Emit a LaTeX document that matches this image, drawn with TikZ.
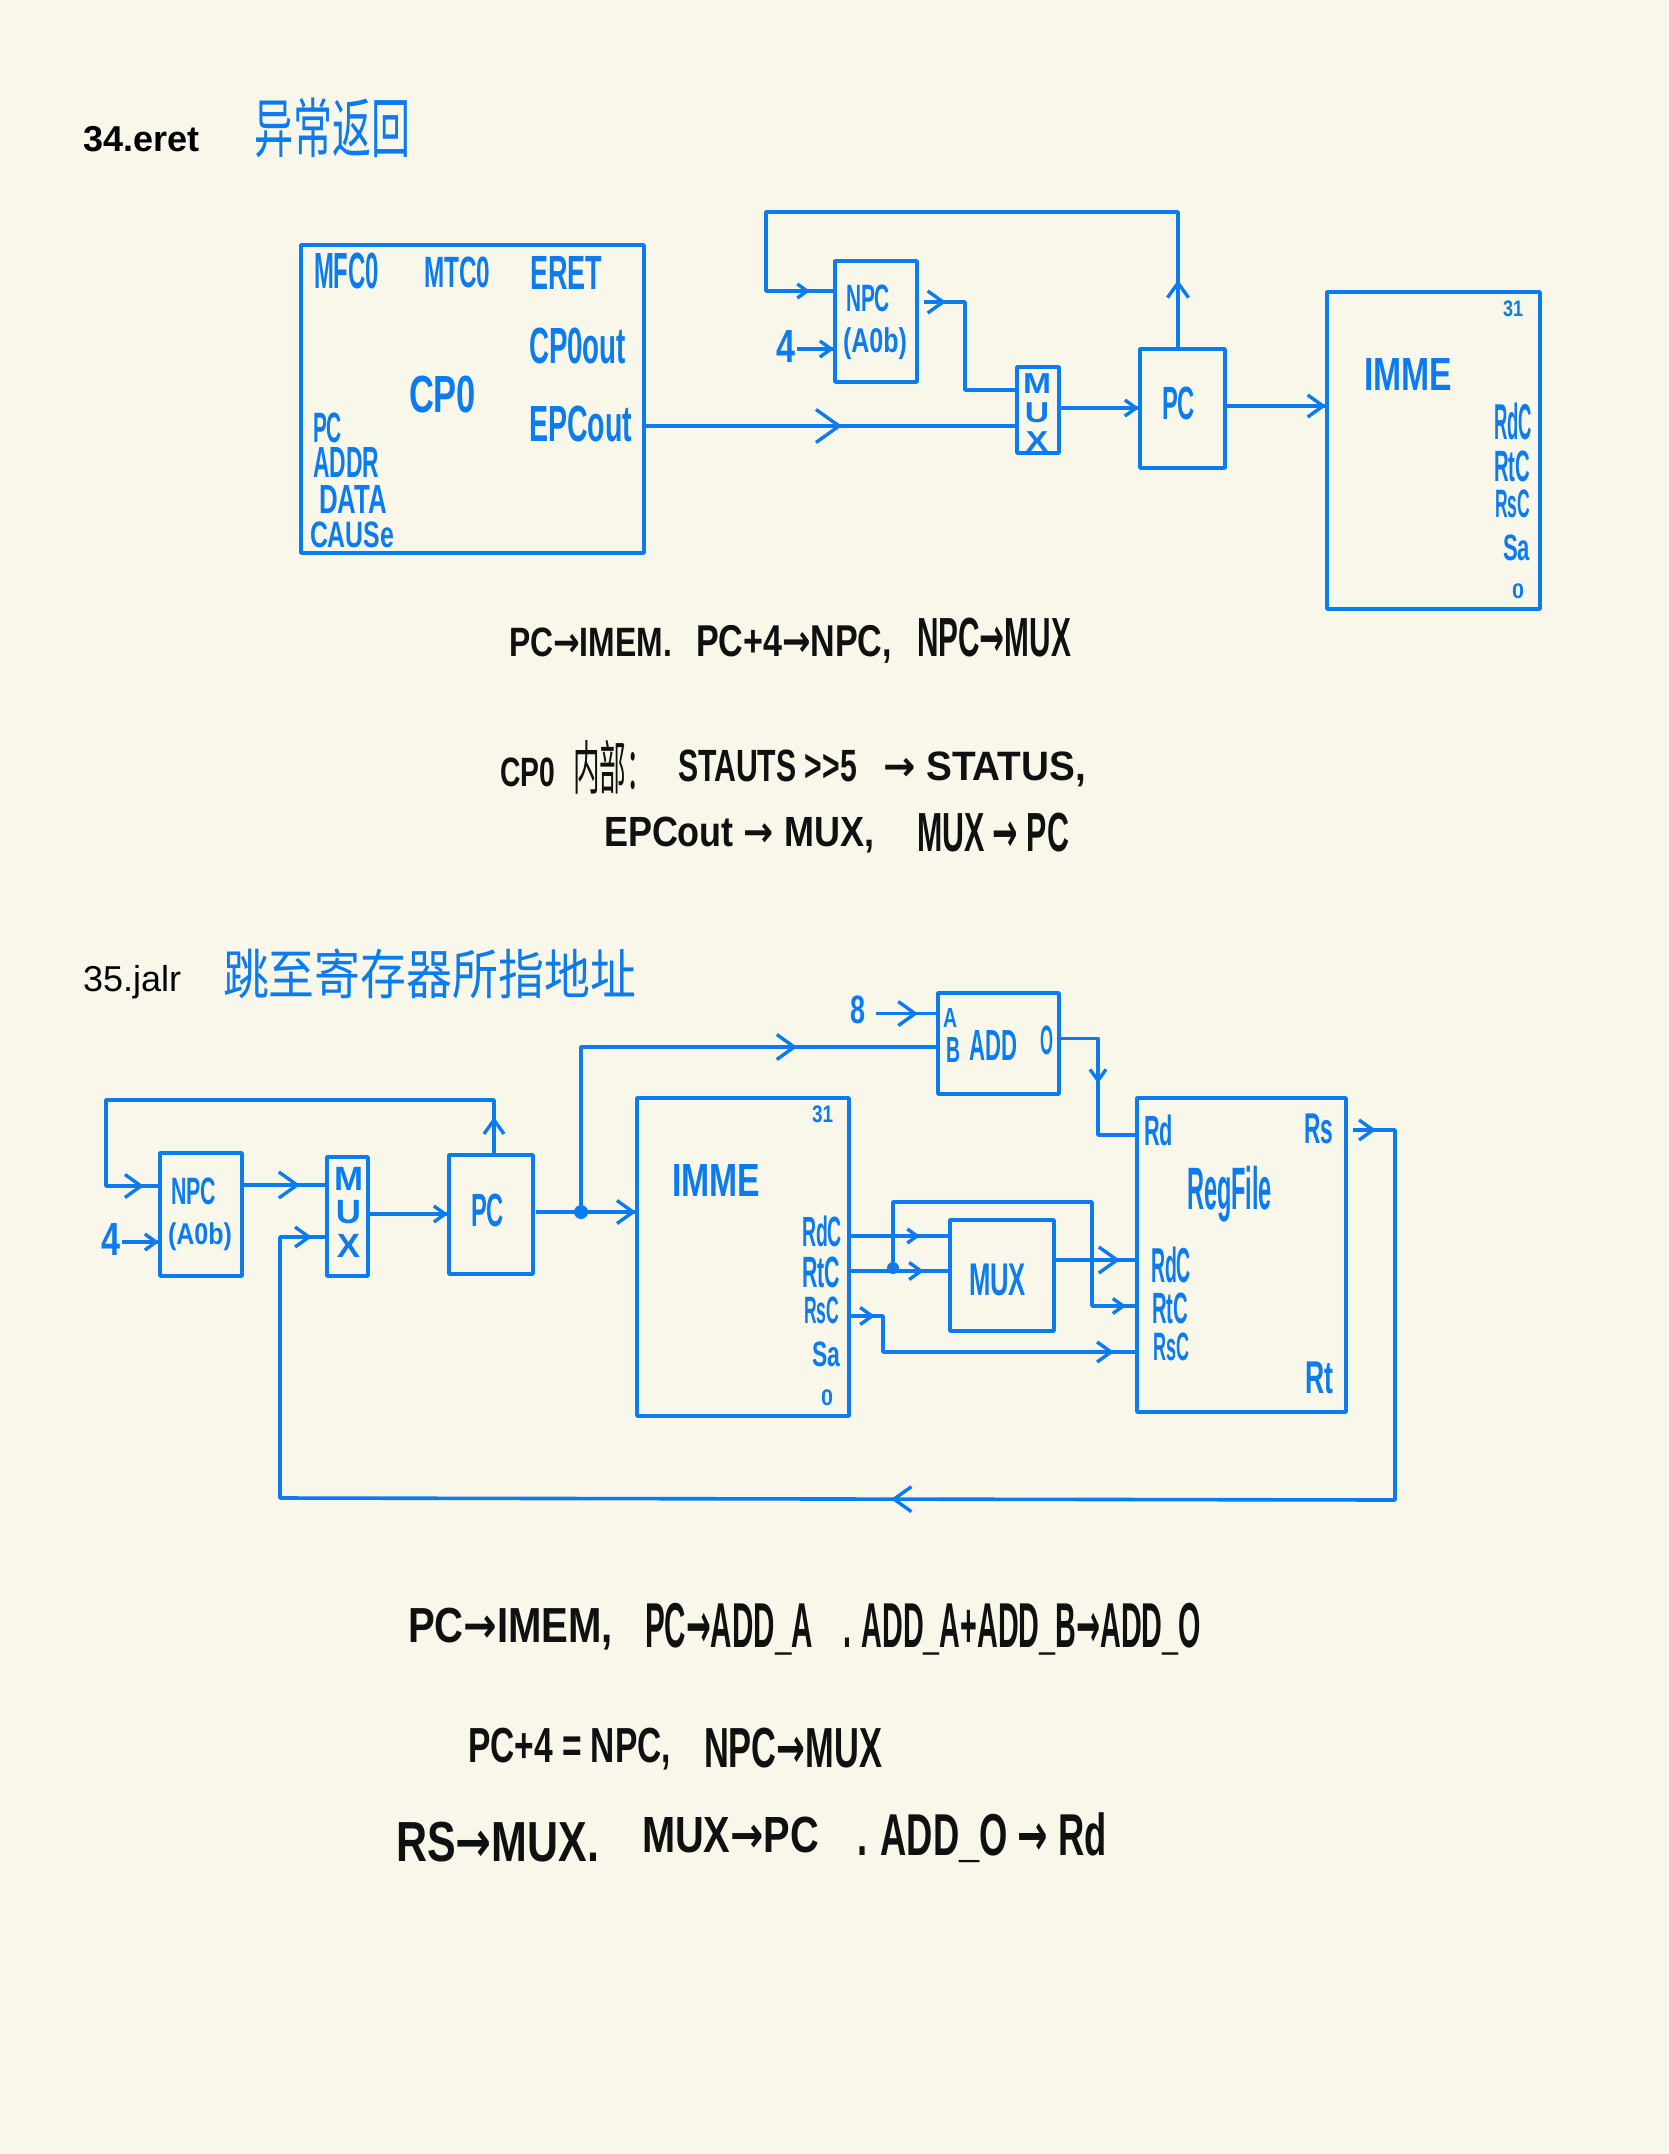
\documentclass[tikz,border=0pt]{standalone}
\usepackage{fontspec}
\usepackage{graphicx}
\usetikzlibrary{arrows.meta,decorations.markings,calc}
\setmainfont{Liberation Sans}
\newfontfamily\hw{Liberation Sans}
\newfontfamily\cjk{Noto Sans CJK SC}
\newfontfamily\arrowfont{DejaVu Sans}
\newcommand\ar{{\arrowfont →}}
\definecolor{wireblue}{HTML}{0B7BF0}
\definecolor{paper}{HTML}{F9F6EA}
\definecolor{ink}{HTML}{101010}
\tikzset{
  blockbox/.style={draw=wireblue,line width=3.6pt,inner sep=0pt,outer sep=0pt,anchor=north west,line join=round},
  wirepath/.style={draw=wireblue,line width=3.6pt,line join=round},
  head/.style 2 args={postaction={decorate,decoration={markings,mark=at position #1pt with {\arrow{Straight Barb[length=7pt,width=10pt,line width=3.4pt,scale=#2]}}}}},
  hwblue/.style={text=wireblue,font=\hw\bfseries,inner sep=0pt,outer sep=0pt,anchor=north west},
  hwink/.style={text=ink,font=\hw\bfseries,inner sep=0pt,outer sep=0pt,anchor=north west},
  junction/.style={circle,fill=wireblue,inner sep=0pt,minimum size=#1},
  heading/.style={text=black,inner sep=0pt,anchor=base west,font=\fontsize{36}{40}\selectfont},
}
\newcommand\boxn[5]{%
  \pgfmathsetmacro\bww{#4-#2}\pgfmathsetmacro\bwh{#5-#3}%
  \node[blockbox,minimum width=\bww pt,minimum height=\bwh pt] (#1) at (#2,#3) {};}
\newcommand\hwnode[7]{%
  \pgfmathsetmacro\hww{#5-#3}\pgfmathsetmacro\hwh{#6-#4}%
  \node[#1] (#2) at (#3,#4) {\resizebox*{\hww pt}{\hwh pt}{#7}};}
\newcommand\hb[6]{\hwnode{hwblue}{#1}{#2}{#3}{#4}{#5}{#6}}
\newcommand\hk[6]{\hwnode{hwink}{#1}{#2}{#3}{#4}{#5}{#6}}
\begin{document}
\begin{tikzpicture}[x=1pt,y=-1pt]
\fill[paper] (0,0) rectangle (1668,2154);
\useasboundingbox (0,0) rectangle (1668,2154);

% ---------- 34.eret ----------
\node[heading,font=\fontsize{36}{40}\selectfont\bfseries] (t34) at (83,152) {34.eret};
\hb{t34cn}{254}{98}{410}{158}{\cjk\mdseries 异常返回}

\boxn{cp}{301}{245}{644}{553}
\boxn{npc}{835}{261}{917}{382}
\boxn{mux}{1017}{367}{1059}{453}
\boxn{pc}{1140}{349}{1225}{468}
\boxn{imem}{1327}{292}{1540}{609}

\hb{cpa}{314}{253}{379}{289}{MFC0}
\hb{cpb}{424}{257}{490}{288}{MTC0}
\hb{cpc}{530}{256}{602}{289}{ERET}
\hb{cpd}{529}{328}{626}{364}{CP0out}
\hb{cpe}{529}{406}{632}{442}{EPCout}
\hb{cpf}{409}{376}{476}{413}{CP0}
\hb{cpg}{313}{413}{342}{443}{PC}
\hb{cph}{313}{447}{379}{477}{ADDR}
\hb{cpi}{319}{485}{387}{513}{DATA}
\hb{cpj}{310}{522}{394}{548}{CAUSe}
\hb{npca}{846}{285}{890}{312}{NPC}
\hb{npcb}{843}{328}{907}{360}{(A0b)}
\hb{four}{776}{330}{795}{362}{4}
\hb{muxa}{1023}{374}{1051}{451}{\shortstack{M\\U\\X}}
\hb{pca}{1162}{387}{1195}{420}{PC}
\hb{ima}{1364}{358}{1452}{390}{IMME}
\hb{imb}{1503}{301}{1523}{317}{31}
\hb{imc}{1494}{403}{1532}{440}{RdC}
\hb{imd}{1494}{451}{1530}{482}{RtC}
\hb{ime}{1495}{490}{1530}{518}{RsC}
\hb{imf}{1503}{535}{1530}{561}{Sa}
\hb{img}{1512}{584}{1524}{599}{0}

\draw[wirepath,head={69}{2.1},head={672}{1.4}] (pc.north -| 1178,0) -- (1178,212) -- (766,212) -- (766,291) -- (npc.west |- 0,291);
\draw[wirepath,head={37}{1.6}] ([xshift=2pt]four.east |- 0,349) -- (npc.west |- 0,349);
\draw[wirepath,head={22}{2.2}] ([xshift=7pt]npc.east |- 0,302) -- (965,302) -- (965,390) -- (mux.west |- 0,390);
\draw[wirepath,head={198}{3.3}] (cp.east |- 0,426) -- (mux.west |- 0,426);
\draw[wirepath,head={80}{1.6}] (mux.east |- 0,408) -- (pc.west |- 0,408);
\draw[wirepath,head={99}{2.2}] ([xshift=2pt]pc.east |- 0,406) -- (imem.west |- 0,406);

% notes 34
\hk{n1a}{509}{628}{672}{657}{PC\ar IMEM.}
\hk{n1b}{696}{625}{892}{663}{PC+4\ar NPC,}
\hk{n1c}{917}{618}{1071}{657}{NPC\ar MUX}
\hk{n2a}{500}{758}{555}{787}{CP0}
\hk{n2b}{573}{740}{653}{794}{\cjk\mdseries 内部：}
\hk{n2c}{678}{750}{857}{782}{STAUTS >>5}
\hk{n2d}{883}{752}{1086}{787}{\ar\ STATUS,}
\hk{n3a}{604}{817}{874}{853}{EPCout \ar\ MUX,}
\hk{n3b}{917}{813}{1069}{852}{MUX \ar\ PC}

% ---------- 35.jalr ----------
\node[heading] (t35) at (83,991) {35.jalr};
\hb{t35cn}{223}{949}{636}{999}{\cjk\mdseries 跳至寄存器所指地址}

\boxn{npcj}{160}{1153}{242}{1276}
\boxn{muxj}{327}{1157}{368}{1276}
\boxn{pcj}{449}{1155}{533}{1274}
\boxn{imemj}{637}{1098}{849}{1416}
\boxn{add}{938}{993}{1059}{1094}
\boxn{rf}{1137}{1098}{1346}{1412}
\boxn{muxi}{950}{1220}{1054}{1331}

\hb{jnpca}{171}{1178}{216}{1205}{NPC}
\hb{jnpcb}{168}{1223}{232}{1251}{(A0b)}
\hb{fourj}{101}{1223}{120}{1255}{4}
\hb{jmux}{334}{1167}{363}{1257}{\shortstack{M\\U\\X}}
\hb{jpc}{471}{1194}{504}{1227}{PC}
\hb{jima}{672}{1164}{760}{1196}{IMME}
\hb{jimb}{812}{1106}{833}{1123}{31}
\hb{jimc}{802}{1216}{842}{1247}{RdC}
\hb{jimd}{802}{1257}{840}{1288}{RtC}
\hb{jime}{804}{1297}{839}{1324}{RsC}
\hb{jimf}{812}{1342}{840}{1367}{Sa}
\hb{jimg}{821}{1390}{833}{1406}{0}
\hb{eight}{850}{996}{865}{1024}{8}
\hb{adda}{943}{1008}{957}{1027}{A}
\hb{addb}{946}{1037}{960}{1062}{B}
\hb{addc}{969}{1030}{1017}{1060}{ADD}
\hb{addd}{1040}{1026}{1053}{1055}{O}
\hb{rfa}{1144}{1115}{1173}{1146}{Rd}
\hb{rfb}{1304}{1114}{1333}{1144}{Rs}
\hb{rfc}{1187}{1166}{1272}{1222}{RegFile}
\hb{rfd}{1151}{1247}{1191}{1283}{RdC}
\hb{rfe}{1152}{1293}{1188}{1324}{RtC}
\hb{rff}{1153}{1333}{1189}{1361}{RsC}
\hb{rfg}{1305}{1362}{1333}{1394}{Rt}
\hb{muxil}{969}{1264}{1026}{1296}{MUX}

\node[junction=14pt] (j1) at (581,1212) {};
\node[junction=12pt] (j2) at (893,1268) {};

\draw[wirepath,head={38}{2},head={567}{2.3}] (pcj.north -| 494,0) -- (494,1100) -- (106,1100) -- (106,1186) -- (npcj.west |- 0,1186);
\draw[wirepath,head={37}{1.6}] ([xshift=2pt]fourj.east |- 0,1242) -- (npcj.west |- 0,1242);
\draw[wirepath,head={58}{2.6}] (npcj.east |- 0,1185) -- (muxj.west |- 0,1185);
\draw[wirepath,head={23}{2},head={916}{2.5},head={1820}{2}] ([xshift=7pt]rf.east |- 0,1130) -- (1395,1130) -- (1395,1500) -- (280,1498) -- (280,1237) -- (muxj.west |- 0,1237);
\draw[wirepath,head={80}{1.6}] (muxj.east |- 0,1214) -- (pcj.west |- 0,1214);
\draw[wirepath,head={100}{2.3}] ([xshift=3pt]pcj.east |- 0,1212) -- (imemj.west |- 0,1212);
\draw[wirepath,head={374}{2.5}] (j1) -- (581,1047) -- (add.west |- 0,1047);
\draw[wirepath,head={42}{2.4}] ([xshift=11pt]eight.east |- 0,1013.6) -- (add.west |- 0,1013.6);
\draw[wirepath,head={82}{1.6}] ([xshift=2pt]add.east |- 0,1038.5) -- (1098,1038.5) -- (1098,1135) -- (rf.west |- 0,1135);
\draw[wirepath,head={71}{1.4}] (imemj.east |- 0,1236) -- (muxi.west |- 0,1236);
\draw[wirepath,head={73}{1.7}] ([xshift=2pt]imemj.east |- 0,1271) -- (muxi.west |- 0,1271);
\draw[wirepath,head={397}{1.5}] (j2) -- (893,1202) -- (1092,1202) -- (1092,1306) -- (rf.west |- 0,1306);
\draw[wirepath,head={64}{2.6}] ([xshift=2pt]muxi.east |- 0,1260) -- (rf.west |- 0,1260);
\draw[wirepath,head={26}{1.7},head={301}{2}] (imemj.east |- 0,1316) -- (883,1316) -- (883,1352) -- (rf.west |- 0,1352);

% notes 35
\hk{m1a}{408}{1608}{613}{1650}{PC\ar IMEM,}
\hk{m1b}{645}{1603}{813}{1655}{PC\ar ADD\_A}
\hk{m1c}{843}{1603}{1201}{1655}{. ADD\_A+ADD\_B\ar ADD\_O}
\hk{m2a}{468}{1728}{671}{1770}{PC+4 = NPC,}
\hk{m2b}{704}{1728}{882}{1768}{NPC\ar MUX}
\hk{m3a}{396}{1822}{599}{1862}{RS\ar MUX.}
\hk{m3b}{642}{1817}{819}{1853}{MUX\ar PC}
\hk{m3c}{857}{1813}{1107}{1863}{. ADD\_O \ar\ Rd}
\end{tikzpicture}
\end{document}
